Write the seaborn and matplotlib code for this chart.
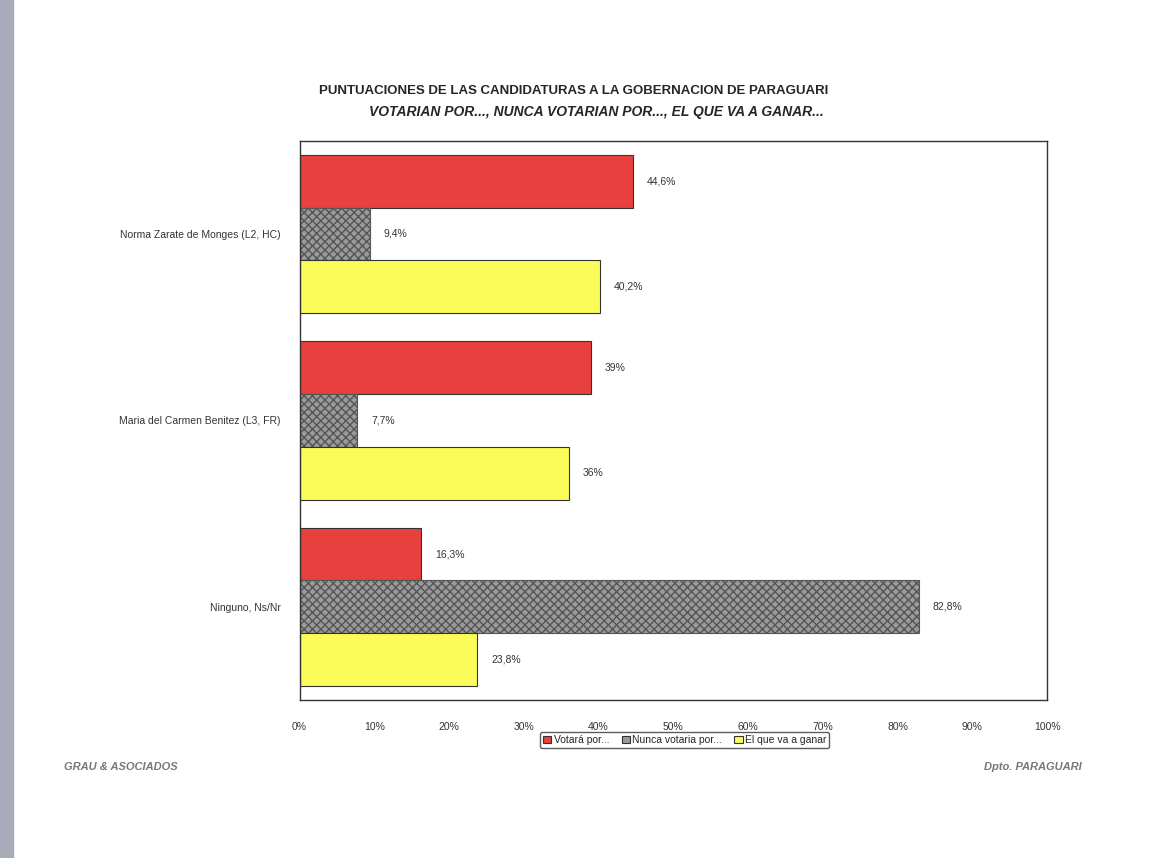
import pandas as pd
import matplotlib.pyplot as plt
import seaborn as sns
from matplotlib.patches import Rectangle

candidatos = ['Norma Zarate de Monges (L2, HC)', 'Maria del Carmen Benitez (L3, FR)', 'Ninguno, Ns/Nr']
series = ['Votará por...', 'Nunca votaria por...', 'El que va a ganar']
votara = [44.6, 39.0, 16.3]
nunca = [9.4, 7.7, 82.8]
ganar = [40.2, 36.0, 23.8]
etiquetas = [['44,6%', '39%', '16,3%'], ['9,4%', '7,7%', '82,8%'], ['40,2%', '36%', '23,8%']]
colores = ['#e8403e', '#9a9a9a', '#fbfb5a']

rows = []
for s, vals in zip(series, [votara, nunca, ganar]):
    for c, v in zip(candidatos, vals):
        rows.append({'cand': c, 'serie': s, 'valor': v})
df = pd.DataFrame(rows)

sns.set_style('white')
plt.rcParams['font.family'] = ['Liberation Sans', 'DejaVu Sans']

fig = plt.figure(figsize=(11.7, 8.58), dpi=100)
fig.patches.append(Rectangle((0, 0), 0.011, 1, transform=fig.transFigure, color='#a9abbb'))
ax = fig.add_axes([0.256, 0.184, 0.639, 0.652])
sns.barplot(data=df, y='cand', x='valor', hue='serie', palette=colores, orient='h',
            width=0.85, saturation=1, edgecolor='#333333', linewidth=0.8, ax=ax)

for cont, labs in zip(ax.containers, etiquetas):
    ax.bar_label(cont, labels=labs, padding=10, fontsize=7.5, color='#333333')
for p in ax.containers[1]:
    p.set_hatch('xxxx')
    p.set_edgecolor('#555555')

ax.set_xlim(0, 100)
ax.set_ylim(2.5, -0.5)
ax.set_xticks(range(0, 101, 10))
ax.set_xticklabels([f'{t}%' for t in range(0, 101, 10)], fontsize=7.5, color='#333333')
ax.tick_params(axis='y', labelsize=7.5, colors='#333333', pad=10)
ax.tick_params(axis='x', pad=12)
ax.set_xlabel('')
ax.set_ylabel('')
for s in ax.spines.values():
    s.set_color('#333333')
    s.set_linewidth(1)

leg = ax.legend(loc='upper center', bbox_to_anchor=(0.515, -0.048), ncol=3, fontsize=7.5,
                frameon=True, fancybox=True, handlelength=0.8, handletextpad=0.2,
                columnspacing=1.2, borderpad=0.3)
leg.get_frame().set_edgecolor('#333333')

fig.text(0.49, 0.89, 'PUNTUACIONES DE LAS CANDIDATURAS A LA GOBERNACION DE PARAGUARI',
         ha='center', fontsize=9.5, fontweight='bold')
fig.text(0.51, 0.865, 'VOTARIAN POR..., NUNCA VOTARIAN POR..., EL QUE VA A GANAR...',
         ha='center', fontsize=10, fontweight='bold', style='italic')
fig.text(0.055, 0.102, 'GRAU & ASOCIADOS', fontsize=8, fontweight='bold', style='italic', color='#777777')
fig.text(0.925, 0.102, 'Dpto. PARAGUARI', fontsize=8, fontweight='bold', style='italic', color='#777777', ha='right')

fig.savefig('out.png', dpi=100)
